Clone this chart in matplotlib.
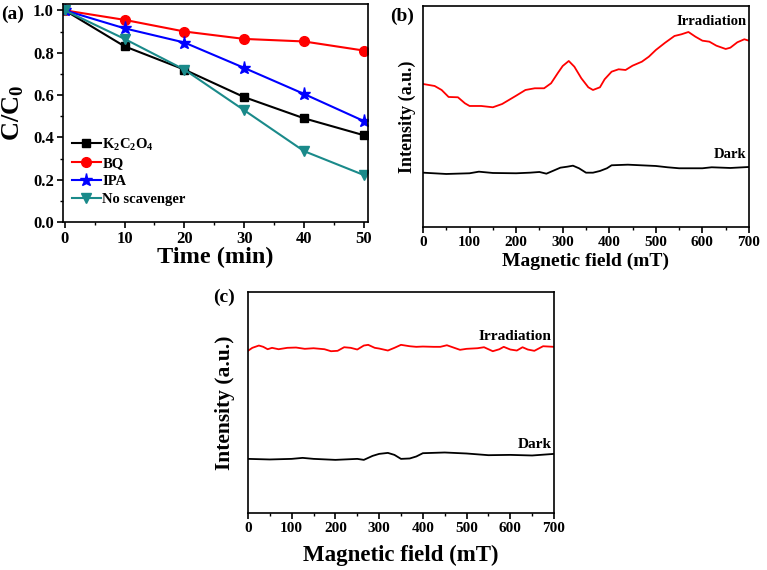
import numpy as np
import matplotlib.pyplot as plt
from matplotlib.ticker import MultipleLocator

plt.rcParams['font.family'] = ['Liberation Serif', 'DejaVu Serif']
plt.rcParams['font.weight'] = 'bold'
plt.rcParams['mathtext.fontset'] = 'custom'
plt.rcParams['mathtext.rm'] = 'Liberation Serif:bold'
plt.rcParams['mathtext.bf'] = 'Liberation Serif:bold'

# (a) scavenger experiments
time = [0, 10, 20, 30, 40, 50]
k2c2o4 = [1.0, 0.83, 0.72, 0.59, 0.49, 0.41]
bq = [1.0, 0.955, 0.90, 0.865, 0.853, 0.81]
ipa = [1.0, 0.915, 0.848, 0.728, 0.605, 0.477]
no_scav = [1.0, 0.865, 0.72, 0.528, 0.335, 0.222]

# (b) EPR spectra, arbitrary units
b_irr_x = [0, 25, 40, 55, 75, 90, 100, 125, 150, 170, 200, 220, 240, 260, 275, 290,
           300, 313, 325, 340, 355, 365, 380, 390, 405, 420, 435, 450, 470, 485, 500,
           520, 540, 555, 570, 585, 600, 615, 630, 650, 660, 675, 690, 700]
b_irr_y = [143, 141, 137, 130, 129.7, 123.7, 121, 121, 119.7, 123, 131.3, 137, 138.7,
           138.7, 143.7, 154.3, 161, 166, 160.3, 148.7, 139.7, 137, 139.7, 147.7, 155.3,
           157.7, 157, 161.3, 165.3, 170.3, 177, 184.3, 191, 192.7, 195, 190.3, 186.3,
           185.3, 181.3, 178, 179.3, 184.7, 187.7, 186.3]
b_dark_x = [0, 50, 100, 120, 150, 200, 230, 250, 265, 280, 295, 310, 322, 335, 350,
            365, 380, 395, 405, 440, 500, 525, 550, 600, 620, 660, 700]
b_dark_y = [54.3, 53, 53.7, 55.3, 54, 53.7, 54.3, 55, 53.3, 56.3, 59.3, 60.3, 61.3,
            58.7, 54.3, 54.3, 56, 58.7, 61.7, 62.3, 61, 59.7, 58.7, 58.7, 59.7, 59, 60]

# (c) EPR spectra, arbitrary units
c_irr_x = [0, 10, 25, 35, 45, 55, 70, 90, 110, 130, 150, 175, 190, 205, 220, 235, 250,
           265, 275, 290, 300, 320, 335, 350, 370, 385, 400, 425, 440, 455, 470, 485,
           500, 525, 540, 560, 575, 585, 600, 615, 628, 640, 655, 675, 700]
c_irr_y = [162.7, 165.7, 168, 166.7, 164.3, 165.7, 164.3, 165.7, 166, 164.7, 165.3,
           164.3, 162.3, 162.7, 166.3, 165.7, 164, 168, 168.7, 165.7, 165, 163, 165.7,
           168.7, 167.3, 166.7, 167, 166.7, 166.7, 168.3, 166, 163.7, 164.7, 165.3,
           166.3, 162.3, 164.3, 166.7, 164, 163, 166.3, 164, 162.7, 167.3, 166.7]
c_dark_x = [0, 50, 100, 125, 150, 200, 250, 265, 285, 300, 320, 335, 350, 370, 385,
            400, 450, 500, 550, 600, 650, 700]
c_dark_y = [54.3, 53.7, 54.3, 55.3, 54.3, 53.3, 54.3, 53.3, 57.3, 59.3, 60.3, 58.3,
            54.3, 54.7, 56.7, 60, 60.7, 59.7, 58, 58.3, 57.7, 59.3]

fig = plt.figure(figsize=(7.67, 5.70), dpi=100)
ax_a = fig.add_axes([0.0821, 0.6105, 0.3977, 0.3825])
ax_b = fig.add_axes([0.5515, 0.6018, 0.4250, 0.3877])
ax_c = fig.add_axes([0.3233, 0.1000, 0.3990, 0.3877])

for ax in (ax_a, ax_b, ax_c):
    for s in ax.spines.values():
        s.set_linewidth(1.2)
    ax.tick_params(which='major', direction='out', length=4, width=1.2,
                   labelsize=11, pad=2.5)
    ax.tick_params(which='minor', direction='out', length=2.5, width=1)

# panel (a)
ax_a.plot(time, k2c2o4, '-s', color='black', ms=6, lw=1.5, label=r'K$_2$C$_2$O$_4$')
ax_a.plot(time, bq, '-o', color='red', ms=7, lw=1.5, label='BQ')
ax_a.plot(time, ipa, '-*', color='blue', ms=9.5, lw=1.5, label='IPA')
ax_a.plot(time, no_scav, '-v', color='#1a8a8a', ms=7.5, lw=1.5, label='No scavenger')
ax_a.set_xlim(-0.3, 50.7)
ax_a.set_ylim(0, 1.03)
ax_a.xaxis.set_major_locator(MultipleLocator(10))
ax_a.xaxis.set_minor_locator(MultipleLocator(5))
ax_a.yaxis.set_major_locator(MultipleLocator(0.2))
ax_a.yaxis.set_minor_locator(MultipleLocator(0.1))
ax_a.set_yticklabels([f'{v:.1f}' for v in ax_a.get_yticks()])
ax_a.tick_params(labelsize=12)
ax_a.set_xlabel('Time (min)', fontsize=17.5, fontweight='bold', labelpad=0)
ax_a.set_ylabel(r'C/C$_0$', fontsize=19, fontweight='bold', labelpad=5)
ax_a.legend(loc='lower left', bbox_to_anchor=(0.0, 0.035), frameon=False,
            fontsize=10.5, handlelength=2.0, handletextpad=0.1, labelspacing=0.3,
            borderaxespad=0.2)
fig.text(0.002, 0.975, '(a)', fontsize=14, fontweight='bold', va='center')

# panel (b)
ax_b.plot(b_irr_x, b_irr_y, color='red', lw=1.3)
ax_b.plot(b_dark_x, b_dark_y, color='black', lw=1.3)
ax_b.set_xlim(0, 700)
ax_b.set_ylim(0, 221)
ax_b.set_yticks([])
ax_b.xaxis.set_major_locator(MultipleLocator(100))
ax_b.xaxis.set_minor_locator(MultipleLocator(50))
ax_b.set_xlabel('Magnetic field (mT)', fontsize=14, fontweight='bold', labelpad=3)
ax_b.set_ylabel('Intensity (a.u.)', fontsize=13, fontweight='bold', labelpad=5)
ax_b.text(695, 205, 'Irradiation', fontsize=10.5, fontweight='bold', ha='right', va='center')
ax_b.text(695, 72, 'Dark', fontsize=10.5, fontweight='bold', ha='right', va='center')
fig.text(0.509, 0.972, '(b)', fontsize=14, fontweight='bold', va='center')

# panel (c)
ax_c.plot(c_irr_x, c_irr_y, color='red', lw=1.3)
ax_c.plot(c_dark_x, c_dark_y, color='black', lw=1.3)
ax_c.set_xlim(0, 700)
ax_c.set_ylim(0, 221.7)
ax_c.set_yticks([])
ax_c.xaxis.set_major_locator(MultipleLocator(100))
ax_c.xaxis.set_minor_locator(MultipleLocator(50))
ax_c.set_xlabel('Magnetic field (mT)', fontsize=16.5, fontweight='bold', labelpad=7)
ax_c.set_ylabel('Intensity (a.u.)', fontsize=15.5, fontweight='bold', labelpad=9)
ax_c.text(695, 177, 'Irradiation', fontsize=11, fontweight='bold', ha='right', va='center')
ax_c.text(695, 69, 'Dark', fontsize=11, fontweight='bold', ha='right', va='center')
fig.text(0.278, 0.479, '(c)', fontsize=14, fontweight='bold', va='center')

fig.savefig('out.png', dpi=100)
